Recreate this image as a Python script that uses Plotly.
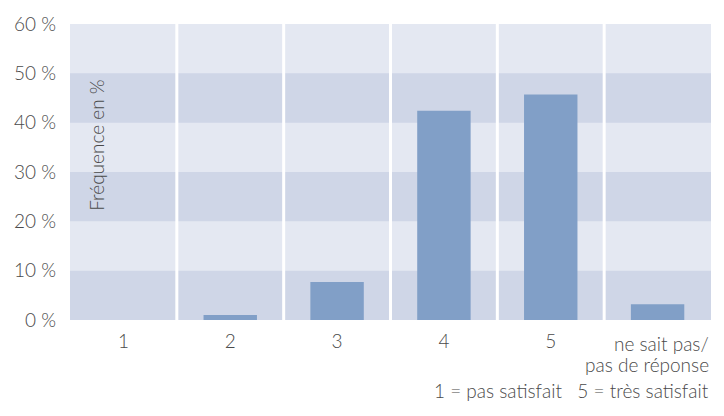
import plotly.graph_objects as go

# Satisfaction ratings and their frequency (%)
categories = ["1", "2", "3", "4", "5", "ne sait pas/ pas de réponse"]
frequency = [0.0, 1.0, 7.7, 42.4, 45.7, 3.2]
y_ticks = [0, 10, 20, 30, 40, 50, 60]
y_tick_text = [f"{v} %" for v in y_ticks]

BAR = "#819FC7"
LIGHT = "#E4E8F2"
DARK = "#CFD6E7"
TEXT = "#4A4A4A"
FONT = "Lato"
SIZE = 19
WEIGHT = 300

base_font = dict(family=FONT, size=SIZE, color=TEXT, weight=WEIGHT)

fig = go.Figure(
    go.Bar(x=categories, y=frequency, marker=dict(color=BAR, line=dict(width=0)),
           hoverinfo="skip")
)

shapes = []
# alternating horizontal bands
for lo in (0, 20, 40):
    shapes.append(dict(type="rect", xref="paper", yref="y", x0=0, x1=1, y0=lo, y1=lo + 10,
                       fillcolor=DARK, line=dict(width=0), layer="below"))
# white separators between categories
for i in range(len(categories) - 1):
    shapes.append(dict(type="line", xref="x", yref="paper", x0=i + 0.5, x1=i + 0.5, y0=0, y1=1,
                       line=dict(color="white", width=3), layer="below"))

def note(text, x, y, xanchor="right"):
    return dict(text=text, xref="paper", yref="paper", x=x, y=y, xanchor=xanchor,
                yanchor="middle", showarrow=False, font=base_font)

annotations = [
    dict(text="Fréquence en %", textangle=-90, xref="paper", yref="y", x=0.042, y=35.5,
         xanchor="center", yanchor="middle", showarrow=False, font=base_font),
    # label of the last category, right-aligned on two lines
    note("ne sait pas/", 1.0, -0.079),
    note("pas de réponse", 1.0, -0.149),
    note("1 = pas satisfait&nbsp;&nbsp;&nbsp;5 = très satisfait", 1.0, -0.238),
]

fig.update_layout(
    width=724, height=416,
    margin=dict(l=70, r=13, t=17, b=96),
    paper_bgcolor="white", plot_bgcolor=LIGHT,
    bargap=0.5, showlegend=False,
    font=base_font,
    shapes=shapes, annotations=annotations,
    xaxis=dict(type="category", tickvals=categories[:5], ticktext=categories[:5],
               showgrid=False, zeroline=False, showline=False, ticks="",
               ticklabelstandoff=8, range=[-0.5, 5.5], fixedrange=True),
    yaxis=dict(range=[0, 60], tickvals=y_ticks, ticktext=y_tick_text, showgrid=False,
               zeroline=False, showline=False, ticks="", ticklabelstandoff=13,
               fixedrange=True),
)

fig.write_html("out.html")
